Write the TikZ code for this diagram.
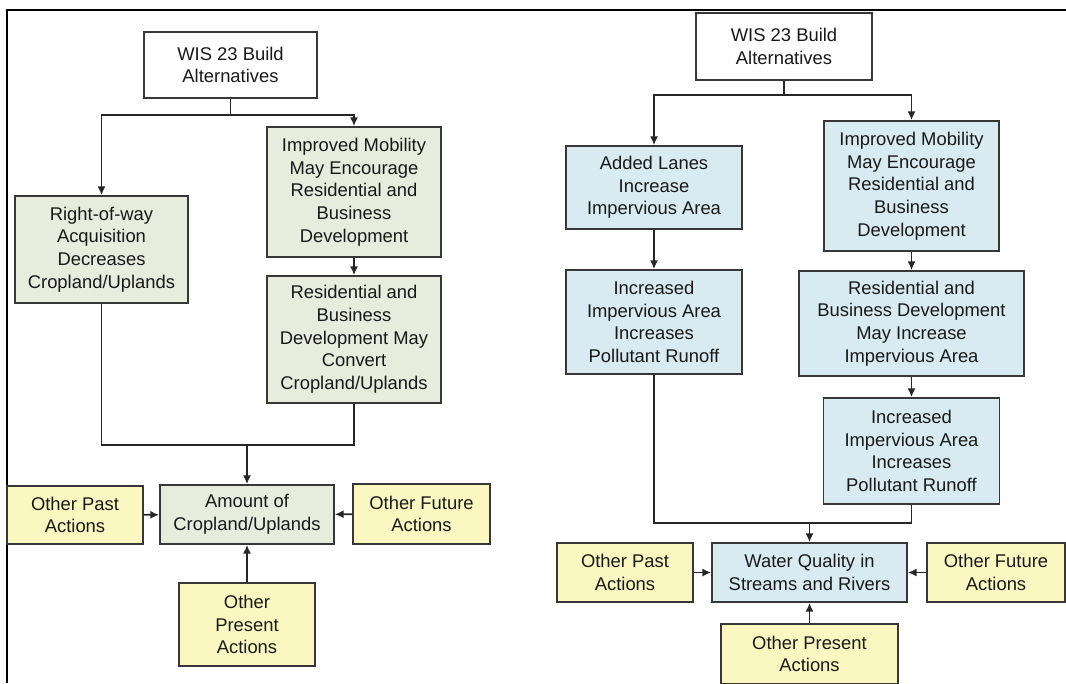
\documentclass[tikz,border=0pt]{standalone}
\usepackage{fontspec}
\setmainfont{Liberation Sans}
\usetikzlibrary{arrows.meta}
\definecolor{cropfill}{RGB}{232,236,220}
\definecolor{waterfill}{RGB}{216,235,242}
\definecolor{otherfill}{RGB}{250,247,192}
\definecolor{edgegray}{RGB}{55,55,55}
\begin{document}
\begin{tikzpicture}[x=0.75pt, y=-0.75pt,
    box/.style={draw=edgegray, line width=1.3pt, align=center, inner sep=2pt,
        text=black!90, font=\fontsize{13.8}{17}\selectfont},
    startbox/.style={box, fill=white},
    cropbox/.style={box, fill=cropfill},
    waterbox/.style={box, fill=waterfill},
    otherbox/.style={box, fill=otherfill},
    wire/.style={draw=black!85, line width=1.3pt},
    link/.style={wire, -{Latex[length=6.5pt,width=6pt]}}]
    \useasboundingbox (0,0) rectangle (1066,683);
    \fill[white] (0,0) rectangle (1066,683);
    \draw[line width=2pt] (7,683) -- (7,10) -- (1066,10);

    % left panel: cropland/uplands
    \node[startbox, minimum width=129.75pt, minimum height=49.5pt] (topL) at (230.5,65) {WIS 23 Build\\Alternatives};
    \node[cropbox, minimum width=129.75pt, minimum height=80.25pt] (rowL) at (101.5,249.5) {Right-of-way\\Acquisition\\Decreases\\Cropland/Uplands};
    \node[cropbox, minimum width=130.5pt, minimum height=97.5pt] (mobL) at (354,192) {Improved Mobility\\May Encourage\\Residential and\\Business\\Development};
    \node[cropbox, minimum width=130.5pt, minimum height=95.25pt] (resL) at (354,339.5) {Residential and\\Business\\Development May\\Convert\\Cropland/Uplands};
    \node[cropbox, minimum width=130.5pt, minimum height=44.25pt] (amtL) at (247,514.5) {Amount of\\Cropland/Uplands};
    \node[otherbox, minimum width=102pt, minimum height=43.5pt] (pastL) at (75,515) {Other Past\\Actions};
    \node[otherbox, minimum width=102.75pt, minimum height=45pt] (futL) at (421.5,514) {Other Future\\Actions};
    \node[otherbox, minimum width=102pt, minimum height=62.25pt] (presL) at (247,624.5) {Other\\Present\\Actions};

    \draw[link] (topL.south) -- ++(0,16) -| (rowL.north);
    \draw[link] (topL.south) -- ++(0,16) -| (mobL.north);
    \draw[link] (mobL) -- (resL);
    \coordinate (jL) at (247,445);
    \draw[wire] (rowL.south) |- (jL) -| (resL.south);
    \draw[link] (jL) -- (amtL);
    \foreach \src in {pastL,futL,presL}
        \draw[link] (\src) -- (amtL);

    % right panel: water quality
    \node[startbox, minimum width=132pt, minimum height=50.25pt] (topR) at (784,46.5) {WIS 23 Build\\Alternatives};
    \node[waterbox, minimum width=132pt, minimum height=62.25pt] (laneR) at (654,187.5) {Added Lanes\\Increase\\Impervious Area};
    \node[waterbox, minimum width=131.25pt, minimum height=97.5pt] (mobR) at (911.5,186) {Improved Mobility\\May Encourage\\Residential and\\Business\\Development};
    \node[waterbox, minimum width=132pt, minimum height=78pt] (runA) at (654,322) {Increased\\Impervious Area\\Increases\\Pollutant Runoff};
    \node[waterbox, minimum width=168.75pt, minimum height=78.75pt] (resR) at (911.5,323.5) {Residential and\\Business Development\\May Increase\\Impervious Area};
    \node[waterbox, minimum width=132pt, minimum height=79.5pt] (runB) at (911.5,451) {Increased\\Impervious Area\\Increases\\Pollutant Runoff};
    \node[waterbox, minimum width=146.25pt, minimum height=44.25pt] (watR) at (809.5,572.5) {Water Quality in\\Streams and Rivers};
    \node[otherbox, minimum width=102pt, minimum height=44.25pt] (pastR) at (625,572.5) {Other Past\\Actions};
    \node[otherbox, minimum width=103.5pt, minimum height=44.25pt] (futR) at (996,572.5) {Other Future\\Actions};
    \node[otherbox, minimum width=132.75pt, minimum height=45pt] (presR) at (809.5,654) {Other Present\\Actions};

    \draw[link] (topR.south) -- ++(0,14) -| (laneR.north);
    \draw[link] (topR.south) -- ++(0,14) -| (mobR.north);
    \draw[link] (laneR) -- (runA);
    \draw[link] (mobR) -- (resR);
    \draw[link] (resR) -- (runB);
    \coordinate (jR) at (809.5,523);
    \draw[wire] (runA.south) |- (jR) -| (runB.south);
    \draw[link] (jR) -- (watR);
    \foreach \src in {pastR,futR,presR}
        \draw[link] (\src) -- (watR);
\end{tikzpicture}
\end{document}
